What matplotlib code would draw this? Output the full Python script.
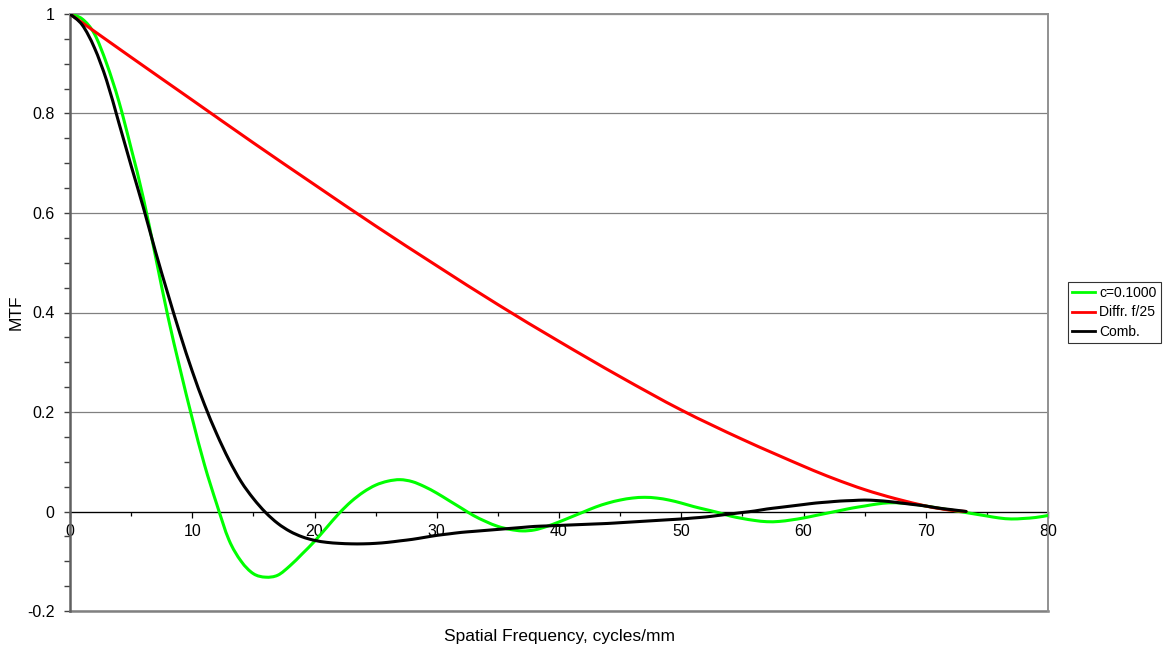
import matplotlib
matplotlib.use("Agg")
import matplotlib.pyplot as plt
from matplotlib.ticker import MultipleLocator, FuncFormatter
from matplotlib.path import Path
from matplotlib.patches import PathPatch
from matplotlib.lines import Line2D
import numpy as np

plt.rcParams['font.family'] = ['Liberation Sans', 'DejaVu Sans']
plt.rcParams['axes.unicode_minus'] = False

# values
freq_green = list(range(0, 81))
mtf_green = [1.000, 0.990, 0.960, 0.900, 0.824, 0.730, 0.630, 0.512, 0.393, 0.287,
             0.187, 0.094, 0.015, -0.057, -0.100, -0.125, -0.132, -0.128, -0.109, -0.085,
             -0.060, -0.032, -0.004, 0.020, 0.039, 0.053, 0.061, 0.064, 0.060, 0.050,
             0.037, 0.022, 0.007, -0.008, -0.020, -0.030, -0.036, -0.039, -0.037, -0.030,
             -0.021, -0.011, -0.001, 0.009, 0.017, 0.023, 0.027, 0.0285, 0.027, 0.023,
             0.017, 0.010, 0.004, -0.002, -0.009, -0.014, -0.018, -0.0205, -0.020, -0.017,
             -0.013, -0.008, -0.003, 0.002, 0.007, 0.011, 0.015, 0.0175, 0.017, 0.015,
             0.011, 0.007, 0.003, -0.001, -0.005, -0.009, -0.013, -0.015, -0.014, -0.012,
             -0.008]

freq_red = [0, 5, 10, 15, 20, 25, 30, 35, 40, 45, 50, 55, 60, 62.5, 65, 67.5, 70, 71, 72, 73.3]
mtf_red = [1.000, 0.913, 0.827, 0.741, 0.657, 0.574, 0.494, 0.416, 0.342, 0.271,
           0.204, 0.145, 0.091, 0.066, 0.044, 0.026, 0.011, 0.0066, 0.0027, 0.0]

freq_black = list(range(0, 74)) + [73.3]
mtf_black = [1.000, 0.978, 0.932, 0.866, 0.781, 0.695, 0.611, 0.522, 0.438, 0.357,
             0.282, 0.215, 0.156, 0.104, 0.060, 0.026, -0.002, -0.024, -0.040, -0.051,
             -0.058, -0.062, -0.064, -0.065, -0.065, -0.064, -0.062, -0.059, -0.056, -0.052,
             -0.048, -0.045, -0.042, -0.040, -0.038, -0.036, -0.034, -0.032, -0.030, -0.029,
             -0.028, -0.027, -0.026, -0.025, -0.024, -0.0225, -0.021, -0.0195, -0.018, -0.0165,
             -0.015, -0.013, -0.011, -0.008, -0.005, -0.002, 0.001, 0.005, 0.008, 0.011,
             0.014, 0.017, 0.019, 0.021, 0.022, 0.023, 0.022, 0.020, 0.017, 0.014,
             0.011, 0.007, 0.004, 0.001, 0.0]

labels = ["c=0.1000", "Diffr. f/25", "Comb."]
colors = ['#00ff00', '#ff0000', 'black']


def smooth_path(xs, ys):
    # Catmull-Rom through the points, as cubic Bezier segments (like a smoothed line)
    pts = np.column_stack([xs, ys]).astype(float)
    n = len(pts)
    verts = [pts[0]]
    codes = [Path.MOVETO]
    for i in range(n - 1):
        p0 = pts[i - 1] if i > 0 else pts[i]
        p1 = pts[i]
        p2 = pts[i + 1]
        p3 = pts[i + 2] if i + 2 < n else pts[i + 1]
        verts += [p1 + (p2 - p0) / 6, p2 - (p3 - p1) / 6, p2]
        codes += [Path.CURVE4] * 3
    return Path(verts, codes)


W, H = 1165, 648
fig = plt.figure(figsize=(W / 100, H / 100), dpi=100)
ax = fig.add_axes([70 / W, 1 - 611 / H, (1048 - 70) / W, (611 - 14) / H])

series = [(freq_green, mtf_green), (freq_red, mtf_red), (freq_black, mtf_black)]
for k, (xs, ys) in enumerate(series):
    ax.add_patch(PathPatch(smooth_path(xs, ys), fill=False, edgecolor=colors[k],
                           lw=2.2, zorder=3 + k, capstyle='round', joinstyle='round'))

ax.set_xlim(0, 80)
ax.set_ylim(-0.2, 1.0)

ax.yaxis.set_major_locator(MultipleLocator(0.2))
ax.yaxis.set_minor_locator(MultipleLocator(0.05))
ax.xaxis.set_major_locator(MultipleLocator(10))
ax.xaxis.set_minor_locator(MultipleLocator(5))
ax.yaxis.set_major_formatter(FuncFormatter(lambda v, p: f"{round(v, 2):g}"))

ax.grid(axis='y', which='major', color='#808080', lw=0.9, zorder=1)
ax.set_axisbelow(True)

# x axis crosses at zero
ax.spines['bottom'].set_position(('data', 0))
ax.spines['bottom'].set_color('black')
ax.spines['bottom'].set_linewidth(0.9)
ax.spines['bottom'].set_zorder(2)
ax.spines['left'].set_color('#606060')
ax.spines['left'].set_linewidth(1.8)
for s in ['top', 'right']:
    ax.spines[s].set_color('#909090')
    ax.spines[s].set_linewidth(1.4)
ax.axhline(-0.2, color='#808080', lw=1.8, clip_on=False, zorder=2)

ax.tick_params(axis='x', which='major', direction='out', length=4, width=0.9,
               color='black', pad=5, labelsize=11.5)
ax.tick_params(axis='x', which='minor', direction='out', length=3, width=0.9, color='black')
ax.tick_params(axis='y', which='major', direction='out', length=4, width=1.0,
               color='#404040', pad=7, labelsize=11.5)
ax.tick_params(axis='y', which='minor', direction='out', length=4, width=1.0, color='#404040')

fig.text(559 / W, 1 - 637 / H, "Spatial Frequency, cycles/mm", ha='center', va='center',
         fontsize=12.5)
fig.text(16 / W, 1 - 312 / H, "MTF", ha='center', va='center', rotation=90, fontsize=12.5)

handles = [Line2D([], [], color=c, lw=2.0) for c in colors]
leg = fig.legend(handles, labels, loc='center left', bbox_to_anchor=(1068 / W, 1 - 312.5 / H),
                 fontsize=10, frameon=True, fancybox=False, shadow=False,
                 handlelength=1.65, handletextpad=0.3, labelspacing=0.4,
                 borderpad=0.3, borderaxespad=0)
leg.get_frame().set_edgecolor('black')
leg.get_frame().set_linewidth(0.8)

fig.savefig("out.png", dpi=100)
